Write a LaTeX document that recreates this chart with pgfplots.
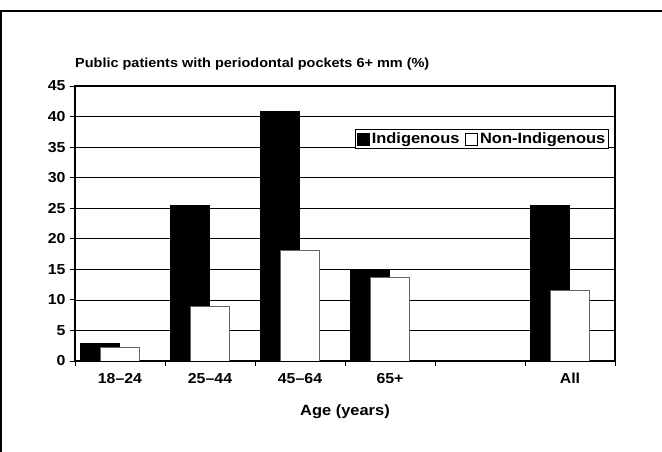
\documentclass[border=0pt]{standalone}
\usepackage{pgfplots}
\pgfplotsset{compat=1.18}
\usepackage{fontspec}
\setmainfont{Liberation Sans}[FakeStretch=1.1]
\begin{document}
\begin{tikzpicture}[x=1bp,y=1bp]
\useasboundingbox (0,0) rectangle (662,452);
\draw[line width=1.6bp] (0,441) -- (662,441);
\draw[line width=1.6bp] (1,441) -- (1,0);
\begin{axis}[
  at={(75bp,91bp)}, anchor=south west,
  scale only axis, width=540bp, height=275bp,
  xmin=-0.5, xmax=5.5, ymin=0, ymax=45,
  ytick={0,5,...,45},
  xtick={-0.5,0.5,...,5.5}, xticklabels={},
  extra x ticks={0,1,2,3,5},
  extra x tick labels={18--24,25--44,45--64,65+,All},
  extra x tick style={major tick length=0pt, grid=none},
  xtick pos=bottom, ytick pos=left,
  tick align=outside, major tick length=5bp,
  tick style={black, line width=0.8bp},
  ymajorgrids, major grid style={black, line width=0.7bp},
  axis line style={black, line width=1.1bp},
  /pgf/number format/assume math mode=true,
  tick label style={font=\bfseries\fontsize{14.5}{16}\selectfont},
  yticklabel style={xshift=-1bp},
  xticklabel style={yshift=-9bp},
  title={\bfseries\fontsize{13.2}{16}\selectfont Public patients with periodontal pockets 6+ mm (\%)},
  title style={at={(0,1)}, anchor=base west, yshift=13bp, inner sep=0pt},
  xlabel={\bfseries\fontsize{15}{17}\selectfont Age (years)},
  xlabel style={at={(0.5,0)}, anchor=base, yshift=-55bp},
  legend columns=2,
  legend style={at={(0.989,0.8436)}, anchor=north east, draw=black, line width=0.7bp,
    font=\bfseries\fontsize{15}{17}\selectfont, inner sep=1.5bp,
    /tikz/every even column/.append style={column sep=4bp}},
]
\addplot[ybar, bar width=0.433, bar shift=0pt, fill=black, draw=black, line width=0.8bp,
  legend image code/.code={\draw[fill=black, draw=black, line width=0.7bp] (0bp,-6bp) rectangle (12bp,6bp);}]
  coordinates {(-0.222,2.9) (0.778,25.4) (1.778,40.9) (2.778,15.0) (4.778,25.4)};
\addlegendentry{Indigenous}
\addplot[ybar, bar width=0.433, bar shift=0pt, fill=white, draw=gray!80!black, line width=0.8bp,
  legend image code/.code={\draw[fill=white, draw=black, line width=0.7bp] (0bp,-6bp) rectangle (12bp,6bp);}]
  coordinates {(0,2.2) (1,8.9) (2,18.1) (3,13.7) (5,11.6)};
\addlegendentry{Non-Indigenous}
\end{axis}
\end{tikzpicture}
\end{document}
